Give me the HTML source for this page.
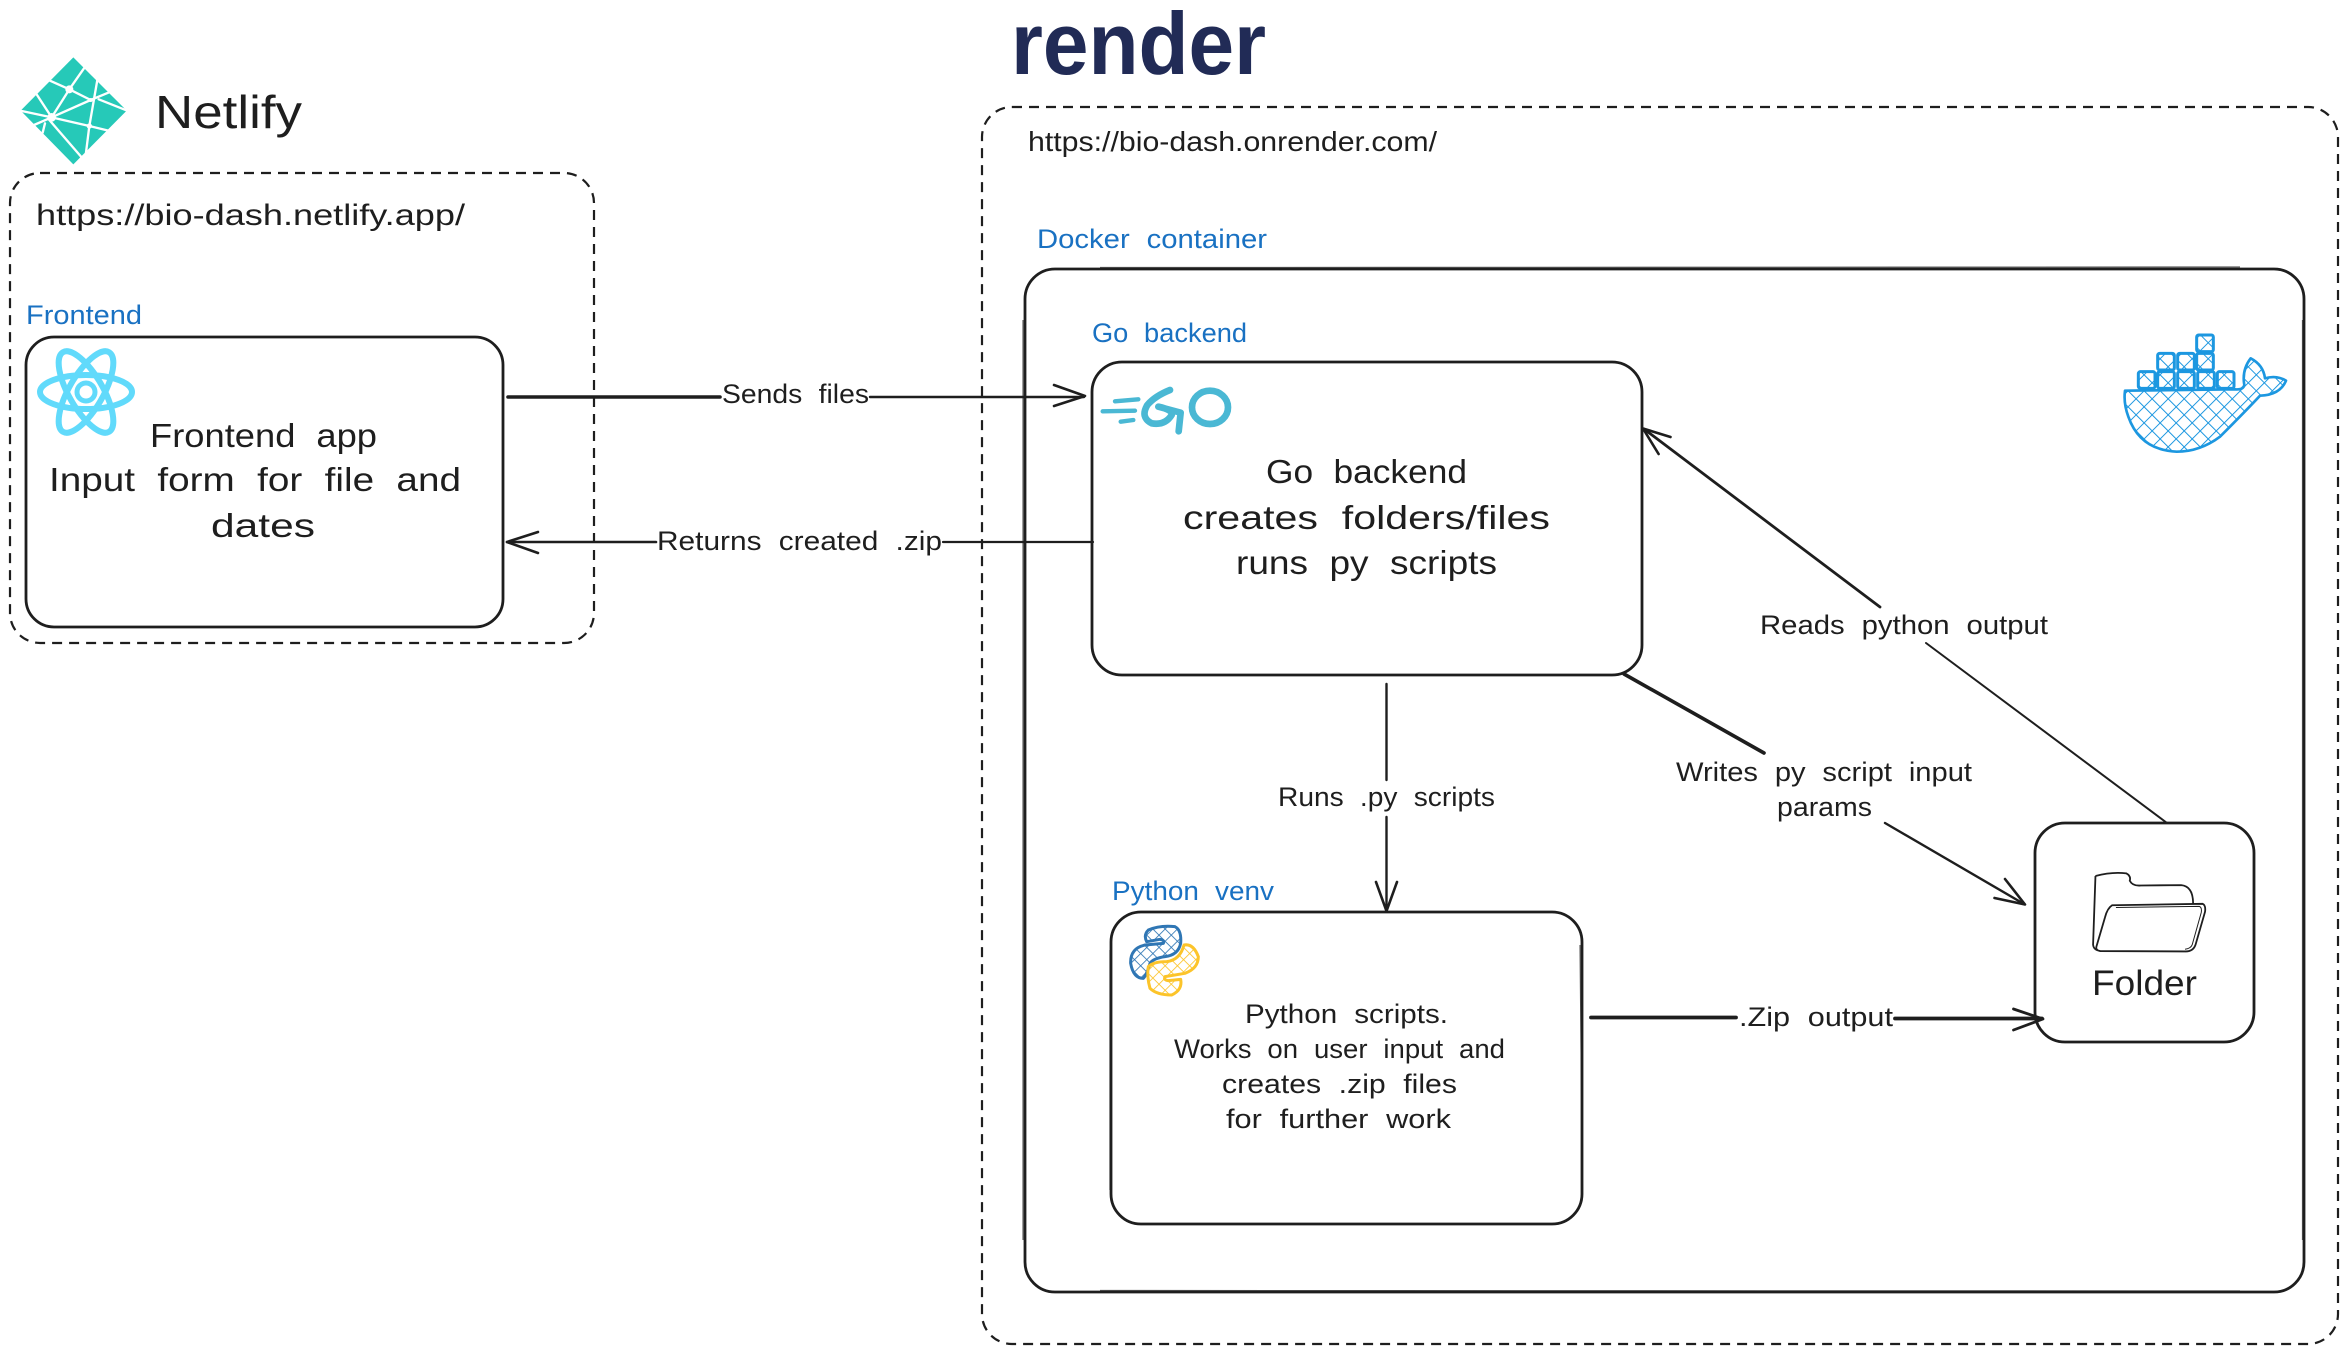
<!DOCTYPE html>
<html lang="en">
<head>
<meta charset="utf-8">
<title>Bio-dash architecture</title>
<style>
html,body{margin:0;padding:0;background:#fff;width:2347px;height:1354px;overflow:hidden}
svg{display:block}
text{font-family:"Liberation Sans",sans-serif;fill:#1e1e1e;word-spacing:.3em}
.box{fill:none;stroke:#1e1e1e;stroke-width:2.8}
.box2{fill:none;stroke:#1e1e1e;stroke-width:1.2;opacity:.7}
.dash{fill:none;stroke:#1e1e1e;stroke-width:2.2;stroke-dasharray:10 7}
.ln{fill:none;stroke:#1e1e1e;stroke-linecap:round;stroke-linejoin:round}
</style>
</head>
<body>
<svg xmlns="http://www.w3.org/2000/svg" width="2347" height="1354" viewBox="0 0 2347 1354">
<defs>
<pattern id="hd" width="34" height="34" patternUnits="userSpaceOnUse" patternTransform="rotate(45)">
<path d="M0 0H34M0 0V34" stroke="#1c97e0" stroke-width="6" fill="none"/>
</pattern>
<pattern id="hb" width="26" height="26" patternUnits="userSpaceOnUse" patternTransform="rotate(45)">
<path d="M0 0H26M0 0V26" stroke="#2f76b4" stroke-width="5" fill="none"/>
</pattern>
<pattern id="hy" width="26" height="26" patternUnits="userSpaceOnUse" patternTransform="rotate(45)">
<path d="M0 0H26M0 0V26" stroke="#fcc42a" stroke-width="5" fill="none"/>
</pattern>
</defs>
<rect width="2347" height="1354" fill="#fff"/>

<!-- containers -->
<rect class="dash" x="10" y="173" width="584" height="470" rx="30"/>
<rect class="dash" x="982" y="107" width="1356" height="1237" rx="30"/>
<rect class="box" x="1025" y="269" width="1279" height="1023" rx="30"/>
<path class="box2" d="M1023 1240V320M1100 267.500L2240 267M2302.500 320V1240M1100 1290.500L2240 1291"/>
<rect class="box" x="26" y="337" width="477" height="290" rx="28"/>
<rect class="box" x="1092" y="362" width="550" height="313" rx="30"/>
<rect class="box" x="1111" y="912" width="471" height="312" rx="30"/>
<path class="box2" d="M1580 945L1582.500 1190M1110 950L1110 1190"/>
<rect class="box" x="2035" y="823" width="219" height="219" rx="30"/>

<!-- connectors -->
<path class="ln" stroke-width="3.6" d="M508 397H720"/>
<path class="ln" stroke-width="2.4" d="M870 397H1084"/>
<path class="ln" stroke-width="2.6" d="M1054 385L1085 396L1054 406"/>
<path class="ln" stroke-width="2.2" d="M1093 542H943"/>
<path class="ln" stroke-width="2.6" d="M656 542H507"/>
<path class="ln" stroke-width="2.6" d="M538 532L507 542L538 553"/>
<path class="ln" stroke-width="2.4" d="M1386.500 684V780"/>
<path class="ln" stroke-width="2.4" d="M1386.500 817V911"/>
<path class="ln" stroke-width="2.6" d="M1376 882L1386.500 911L1397 882"/>
<path class="ln" stroke-width="3.8" d="M1591 1017.500H1736"/>
<path class="ln" stroke-width="3.8" d="M1895 1018.500H2042"/>
<path class="ln" stroke-width="2.8" d="M2013.500 1009L2043 1019L2013.500 1030"/>
<path class="ln" stroke-width="3.6" d="M1624 674L1764 753"/>
<path class="ln" stroke-width="2.4" d="M1885 823L2024 904"/>
<path class="ln" stroke-width="2.6" d="M2005 879L2025 904.500L1994.500 898"/>
<path class="ln" stroke-width="2" d="M2167 823L1926 643"/>
<path class="ln" stroke-width="2.8" d="M1880 607L1644 429"/>
<path class="ln" stroke-width="2.6" d="M1670.500 437L1643 428.500L1658.600 454"/>

<!-- titles -->
<text x="1011" y="74" font-size="88" font-weight="700" textLength="255" lengthAdjust="spacingAndGlyphs" style="fill:#212b56">render</text>
<text x="155" y="128" font-size="46" textLength="147" lengthAdjust="spacingAndGlyphs">Netlify</text>
<text x="36" y="225" font-size="30" textLength="429" lengthAdjust="spacingAndGlyphs">https://bio-dash.netlify.app/</text>
<text x="1028" y="151" font-size="28" textLength="409" lengthAdjust="spacingAndGlyphs">https://bio-dash.onrender.com/</text>

<!-- blue labels -->
<text style="fill:#1971c2" x="26" y="324" font-size="27" textLength="116" lengthAdjust="spacingAndGlyphs">Frontend</text>
<text style="fill:#1971c2" x="1037" y="248" font-size="27" textLength="230" lengthAdjust="spacingAndGlyphs">Docker container</text>
<text style="fill:#1971c2" x="1092" y="342" font-size="27" textLength="155" lengthAdjust="spacingAndGlyphs">Go backend</text>
<text style="fill:#1971c2" x="1112" y="900" font-size="27" textLength="162" lengthAdjust="spacingAndGlyphs">Python venv</text>

<!-- box text -->
<text x="150" y="447" font-size="33" textLength="227" lengthAdjust="spacingAndGlyphs">Frontend app</text>
<text x="49" y="491" font-size="33" textLength="412" lengthAdjust="spacingAndGlyphs">Input form for file and</text>
<text x="211" y="537" font-size="33" textLength="104" lengthAdjust="spacingAndGlyphs">dates</text>
<text x="1266" y="483" font-size="33" textLength="201" lengthAdjust="spacingAndGlyphs">Go backend</text>
<text x="1183" y="529" font-size="33" textLength="367" lengthAdjust="spacingAndGlyphs">creates folders/files</text>
<text x="1236" y="574" font-size="33" textLength="261" lengthAdjust="spacingAndGlyphs">runs py scripts</text>
<text x="1245" y="1023" font-size="27" textLength="203" lengthAdjust="spacingAndGlyphs">Python scripts.</text>
<text x="1174" y="1058" font-size="27" textLength="331" lengthAdjust="spacingAndGlyphs">Works on user input and</text>
<text x="1222" y="1093" font-size="27" textLength="235" lengthAdjust="spacingAndGlyphs">creates .zip files</text>
<text x="1226" y="1128" font-size="27" textLength="225" lengthAdjust="spacingAndGlyphs">for further work</text>
<text x="2092" y="995" font-size="35" textLength="105" lengthAdjust="spacingAndGlyphs">Folder</text>

<!-- connector labels -->
<text x="722" y="403" font-size="27" textLength="147" lengthAdjust="spacingAndGlyphs">Sends files</text>
<text x="657" y="550" font-size="27" textLength="285" lengthAdjust="spacingAndGlyphs">Returns created .zip</text>
<text x="1278" y="806" font-size="27" textLength="217" lengthAdjust="spacingAndGlyphs">Runs .py scripts</text>
<text x="1739" y="1026" font-size="27" textLength="154" lengthAdjust="spacingAndGlyphs">.Zip output</text>
<text x="1676" y="781" font-size="27" textLength="296" lengthAdjust="spacingAndGlyphs">Writes py script input</text>
<text x="1777" y="816" font-size="27" textLength="95" lengthAdjust="spacingAndGlyphs">params</text>
<text x="1760" y="634" font-size="27" textLength="288" lengthAdjust="spacingAndGlyphs">Reads python output</text>

<!-- Netlify logo -->
<g transform="translate(0 40) scale(.33333)">
<polygon points="220,52 380,212 220,373 62,212" fill="#26c9b8"/>
<g fill="none" stroke="#fff" stroke-width="7" stroke-linecap="round">
<path d="M208 148L150 122M208 148L252 85M208 148L155 232M208 148L272 180"/>
<path d="M155 232L272 180L332 155M292 120L268 258L258 338M296 178L382 212"/>
<path d="M268 258L155 232M268 258L325 272M155 232L108 160M155 232L60 212M155 232L102 255M148 240L245 352M135 250L128 278"/>
</g>
<g fill="#fff"><circle cx="208" cy="148" r="12"/><circle cx="155" cy="232" r="13"/><circle cx="268" cy="258" r="8"/><circle cx="272" cy="180" r="6"/></g>
</g>

<!-- React logo -->
<g transform="translate(86 392)" fill="none" stroke="#61dafb" stroke-width="6">
<ellipse rx="46" ry="17"/>
<ellipse rx="46" ry="17" transform="rotate(60)"/>
<ellipse rx="46" ry="17" transform="rotate(-60)"/>
<circle r="9" stroke-width="5"/>
</g>

<!-- Go logo -->
<g transform="translate(1090 360) scale(.33333)" fill="none" stroke="#4ab8d4" stroke-linecap="round" stroke-linejoin="round">
<path stroke-width="13" d="M75 124L145 118M38 154L135 152M92 185L130 180"/>
<path stroke-width="20" d="M240 90Q195 108 172 135Q150 172 185 190Q225 197 245 165Q250 150 205 140L272 158L266 214"/>
<ellipse cx="360" cy="142" rx="54" ry="50" stroke-width="20"/>
</g>

<!-- Docker logo -->
<g transform="translate(2080 310) scale(.33333)">
<path d="M135 242L465 238Q490 240 493 225Q485 180 512 145Q550 165 555 205Q590 195 618 212Q600 255 540 257Q500 300 420 380Q360 425 290 425Q180 420 145 320Q130 280 135 242Z" fill="url(#hd)" stroke="#1c97e0" stroke-width="8" stroke-linejoin="round"/>
<g fill="url(#hd)" stroke="#1c97e0" stroke-width="9">
<rect x="175" y="185" width="50" height="50" rx="6"/>
<rect x="233" y="185" width="50" height="50" rx="6"/>
<rect x="293" y="185" width="50" height="50" rx="6"/>
<rect x="353" y="185" width="50" height="50" rx="6"/>
<rect x="412" y="185" width="50" height="50" rx="6"/>
<rect x="233" y="130" width="50" height="50" rx="6"/>
<rect x="293" y="130" width="50" height="50" rx="6"/>
<rect x="350" y="130" width="50" height="50" rx="6"/>
<rect x="350" y="75" width="50" height="50" rx="6"/>
</g>
</g>

<!-- Python logo -->
<g transform="translate(1110 910) scale(.33333)" stroke-linejoin="round">
<path d="M115 60Q150 45 195 50Q215 60 212 100Q205 135 165 140Q130 145 120 160Q110 195 100 205Q70 205 62 160Q60 115 105 105L160 100Q165 90 150 88L110 95Q100 75 115 60Z" fill="url(#hb)" stroke="#2f76b4" stroke-width="9"/>
<path d="M222 105Q250 100 265 140Q265 175 225 190L165 200Q160 210 175 212L212 208Q218 240 185 255Q140 255 120 235Q110 200 115 170Q130 155 170 155Q210 150 222 105Z" fill="url(#hy)" stroke="#fcc42a" stroke-width="9"/>
</g>

<!-- Folder icon -->
<g transform="translate(1600 780) scale(.4764 .3663)" fill="none" stroke="#1e1e1e">
<path vector-effect="non-scaling-stroke" stroke-width="1.800" d="M1040 262Q1075 250 1105 255Q1115 262 1112 275Q1118 290 1135 288L1220 287Q1245 290 1245 338M1040 262L1035 450Q1036 462 1045 465"/>
<path vector-effect="non-scaling-stroke" stroke-width="1.800" d="M1075 342L1265 338Q1272 342 1270 360L1250 450Q1245 468 1230 468L1050 467Q1040 465 1042 455L1060 375Q1065 350 1075 342Z"/>
<path vector-effect="non-scaling-stroke" stroke-width="1" d="M1083 348L1258 345Q1264 348 1262 362L1243 450Q1240 460 1228 462"/>
</g>
</svg>
</body>
</html>
